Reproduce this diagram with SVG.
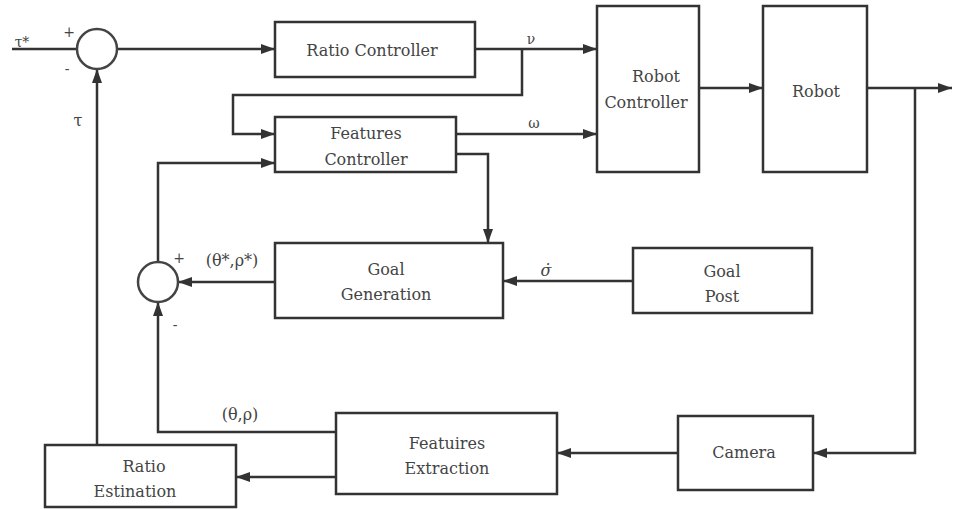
<svg xmlns="http://www.w3.org/2000/svg" width="954" height="510" viewBox="0 0 954 510">
<defs>
<marker id="ah" viewBox="0 0 14 10" refX="14" refY="5" markerWidth="14" markerHeight="10" markerUnits="userSpaceOnUse" orient="auto">
<path d="M0,0 L14,5 L0,10 Z" fill="#333"/>
</marker>
</defs>
<style>
.box{fill:#fff;stroke:#333;stroke-width:2.5}
.sum{fill:#fff;stroke:#444;stroke-width:2.5}
.ln{fill:none;stroke:#333;stroke-width:2.5}
.ar{fill:none;stroke:#333;stroke-width:2.5;marker-end:url(#ah)}
.t{font-family:"DejaVu Serif",serif;font-size:16px;fill:#444;text-anchor:middle}
.sm{font-size:14px}
</style>
<rect width="954" height="510" fill="#fff"/>
<g id="connectors">
<path class="ln" d="M12,49 H77"/>
<path class="ar" d="M117,49 H275"/>
<path class="ar" d="M475,49 H597"/>
<path class="ar" d="M522,49 V95 H233 V134 H275"/>
<path class="ar" d="M456,134 H597"/>
<path class="ar" d="M456,154 H488 V243"/>
<path class="ar" d="M275,282 H178"/>
<path class="ar" d="M158,262 V163 H275"/>
<path class="ar" d="M336,432 H158 V302"/>
<path class="ar" d="M336,477 H236"/>
<path class="ar" d="M97,445 V69"/>
<path class="ar" d="M699,88 H763"/>
<path class="ar" d="M867,88 H952"/>
<path class="ar" d="M915,88 V453 H813"/>
<path class="ar" d="M678,453 H557"/>
<path class="ar" d="M633,281 H503"/>
</g>
<g id="labels">
<text class="t sm" x="22" y="47">τ*</text>
<text class="t sm" x="69" y="37">+</text>
<text class="t sm" x="67" y="74">-</text>
<text class="t" x="78" y="126">τ</text>
<text class="t sm" x="531" y="44">ν</text>
<text class="t sm" x="534" y="128">ω</text>
<text class="t" x="232" y="266">(θ*,ρ*)</text>
<text class="t sm" x="179" y="263">+</text>
<text class="t sm" x="175" y="330">-</text>
<text class="t" x="240" y="420">(θ,ρ)</text>
<text class="t" x="546" y="276" font-style="italic">σ̇</text>
</g>
<g id="sum1"><circle class="sum" cx="97" cy="49" r="20"/></g>
<g id="sum2"><circle class="sum" cx="158" cy="282" r="20"/></g>
<g id="ratio-controller">
<rect class="box" x="275" y="22" width="200" height="55"/>
<text class="t" x="372" y="56">Ratio  Controller</text>
</g>
<g id="features-controller">
<rect class="box" x="275" y="117" width="181" height="55"/>
<text class="t" x="366" y="139">Features</text>
<text class="t" x="366" y="165">Controller</text>
</g>
<g id="robot-controller">
<rect class="box" x="597" y="6" width="102" height="166"/>
<text class="t" x="656" y="82">Robot</text>
<text class="t" x="646" y="108">Controller</text>
</g>
<g id="robot">
<rect class="box" x="763" y="6" width="104" height="166"/>
<text class="t" x="816" y="97">Robot</text>
</g>
<g id="goal-generation">
<rect class="box" x="275" y="243" width="228" height="75"/>
<text class="t" x="386" y="275">Goal</text>
<text class="t" x="386" y="300">Generation</text>
</g>
<g id="goal-post">
<rect class="box" x="633" y="248" width="179" height="65"/>
<text class="t" x="722" y="277">Goal</text>
<text class="t" x="722" y="302">Post</text>
</g>
<g id="camera">
<rect class="box" x="678" y="416" width="135" height="74"/>
<text class="t" x="744" y="458">Camera</text>
</g>
<g id="features-extraction">
<rect class="box" x="336" y="413" width="221" height="81"/>
<text class="t" x="447" y="449">Featuires</text>
<text class="t" x="447" y="474">Extraction</text>
</g>
<g id="ratio-estimation">
<rect class="box" x="45" y="445" width="191" height="62"/>
<text class="t" x="144" y="472">Ratio</text>
<text class="t" x="135" y="497">Estination</text>
</g>
</svg>
